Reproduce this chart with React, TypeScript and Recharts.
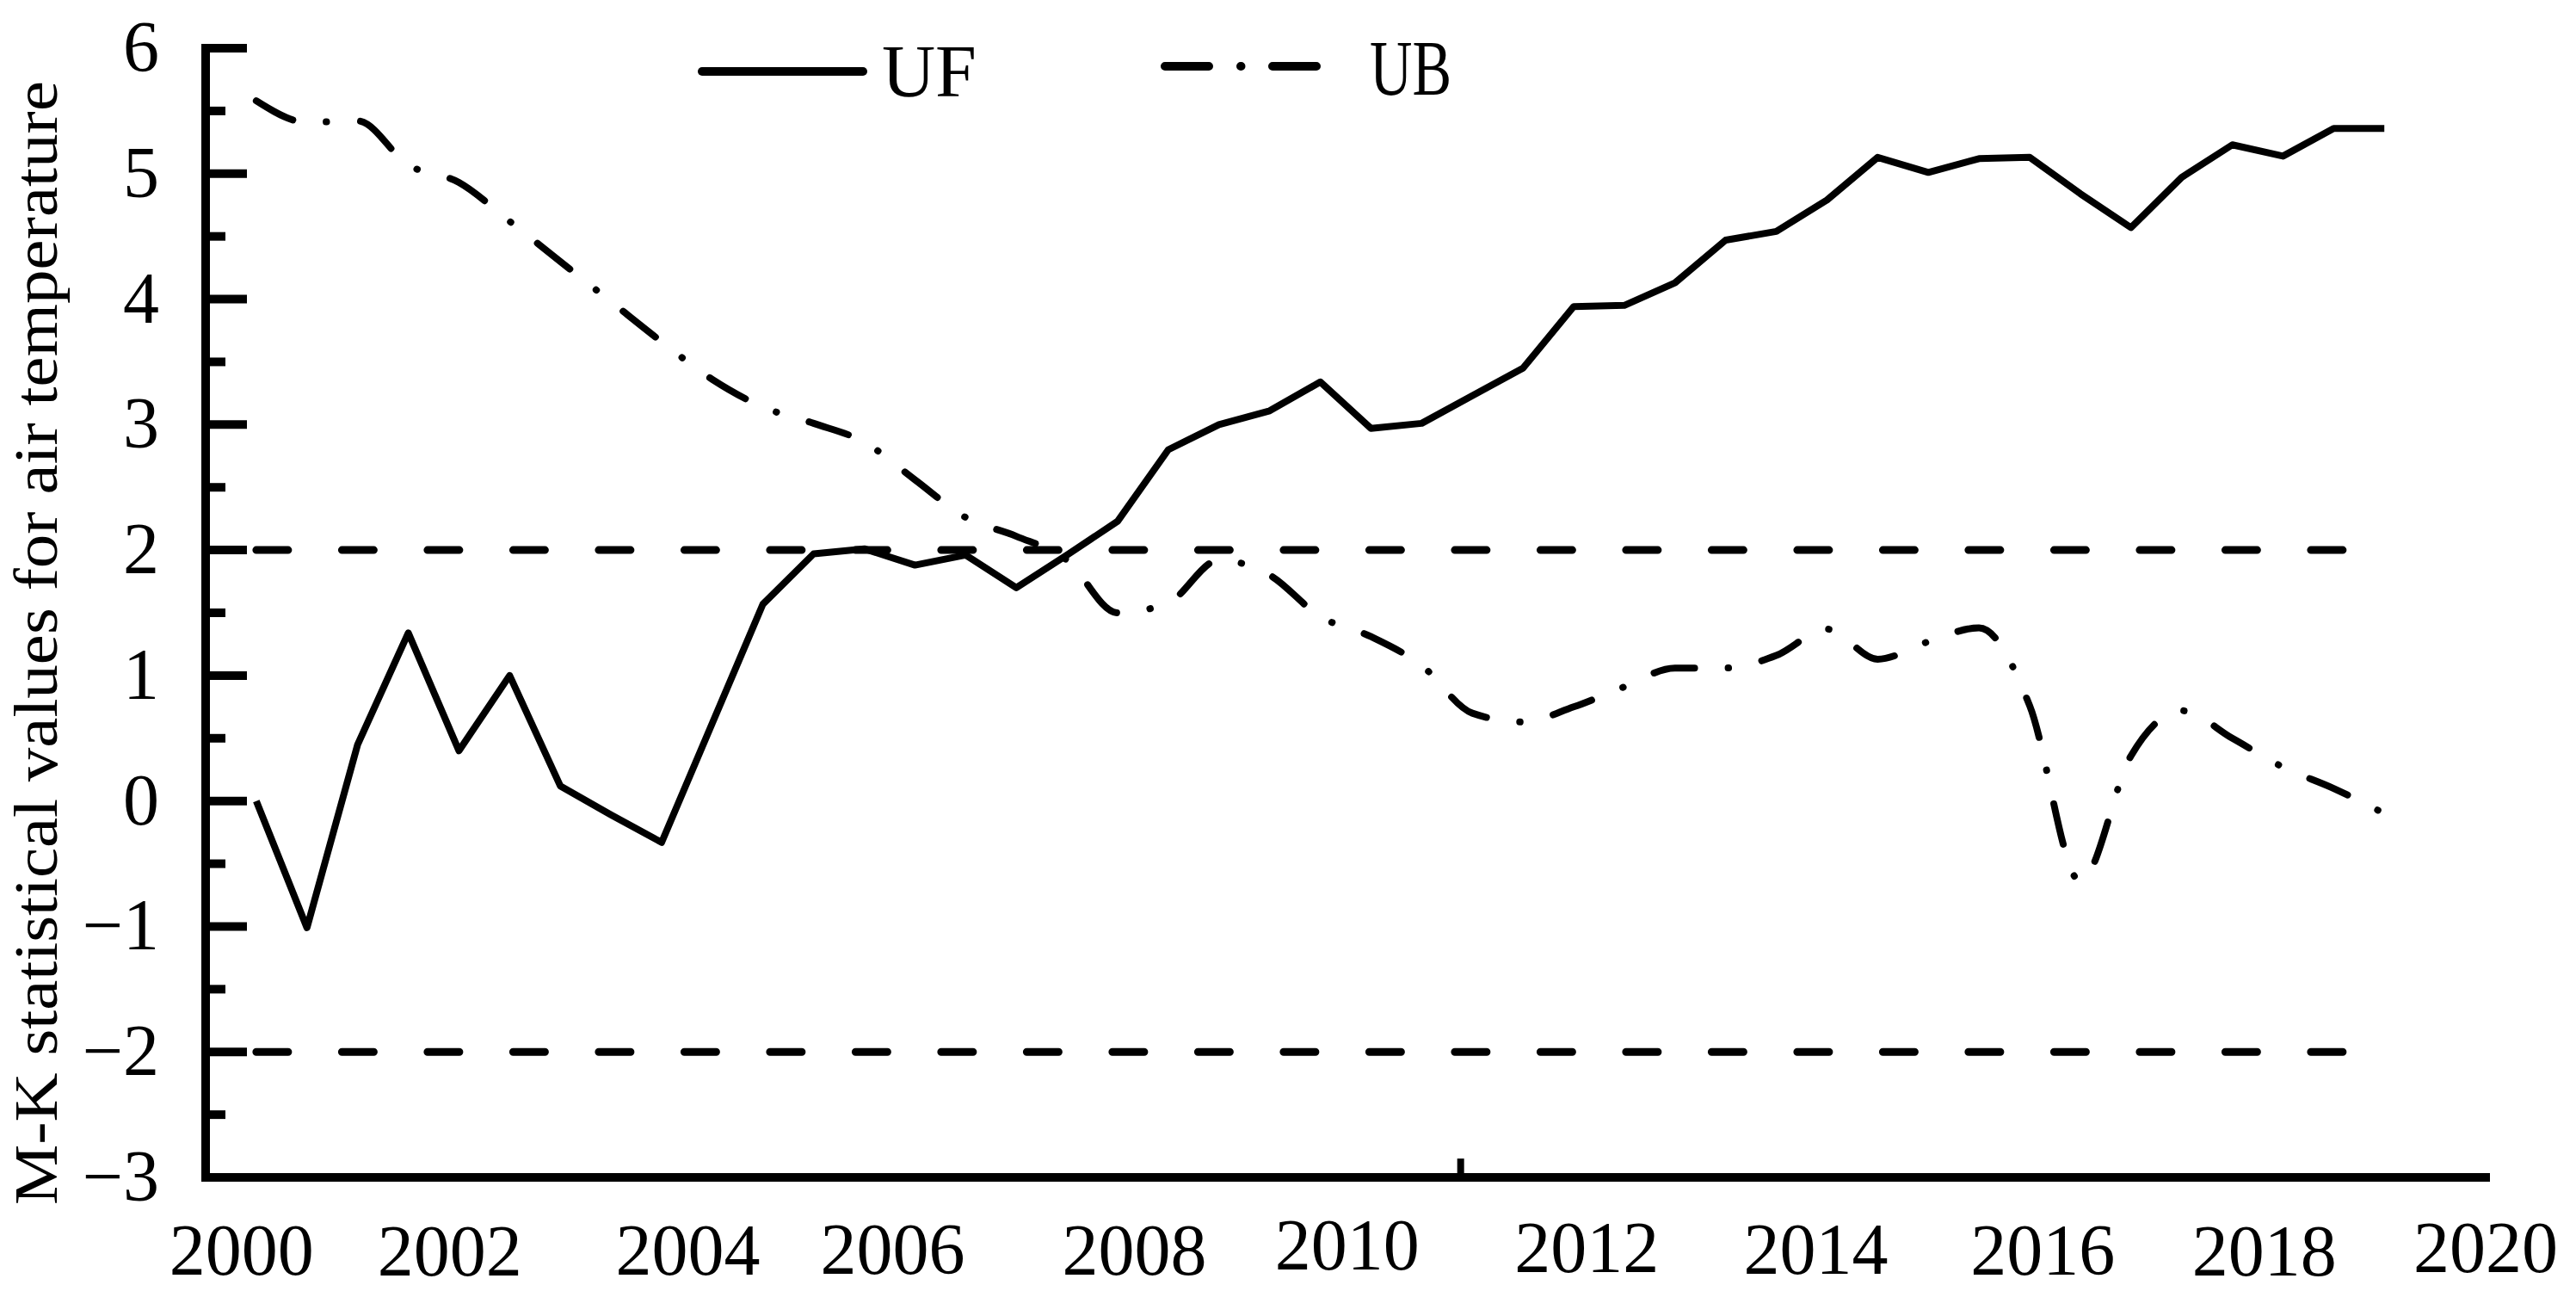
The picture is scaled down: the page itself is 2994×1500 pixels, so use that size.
import React from "react";
import { LineChart, Line, XAxis, YAxis, ReferenceLine, Legend } from "recharts";

// Mann-Kendall sequential test, one value per step along the axis
const UF = [
  0.0, -1.01, 0.45, 1.34, 0.4, 1.0, 0.12, -0.11, -0.33, 0.62, 1.57,
  1.97, 2.01, 1.88, 1.96, 1.7, 1.96, 2.23, 2.8, 3.0, 3.11,
  3.34, 2.97, 3.01, 3.23, 3.45, 3.94, 3.95, 4.13, 4.47, 4.54,
  4.79, 5.13, 5.01, 5.12, 5.13, 4.84, 4.57, 4.97, 5.23, 5.14,
  5.36, 5.36,
];
const UB = [
  5.58, 5.41, 5.42, 5.07, 4.93, 4.62, 4.3, 3.98, 3.66, 3.36, 3.14,
  3.01, 2.86, 2.56, 2.26, 2.11, 1.92, 1.5, 1.58, 1.92, 1.8,
  1.47, 1.31, 1.08, 0.7, 0.63, 0.75, 0.91, 1.06, 1.06, 1.16,
  1.37, 1.13, 1.27, 1.38, 0.76, -0.64, 0.36, 0.72, 0.5, 0.27,
  0.1, -0.1,
];

const Y_TICKS = [-3, -2.5, -2, -1.5, -1, -0.5, 0, 0.5, 1, 1.5, 2, 2.5, 3, 3.5, 4, 4.5, 5, 5.5, 6];
const YEAR_LABELS = ["2000", "2002", "2004", "2006", "2008", "2010", "2012", "2014", "2016", "2018", "2020"];
// where each year label sits along the step axis, and its small vertical offset
const YEAR_AT = [-0.29, 3.82, 8.52, 12.56, 17.33, 21.53, 26.26, 30.78, 35.26, 39.63, 44];
const YEAR_DY = [113, 113.5, 113, 112, 113, 106.5, 109.5, 112, 112.5, 113.5, 109.5];
const LIMITS = [2, -2];
const STRAY_MARK_AT = 23.77;

const FONT = "'Liberation Serif', 'Times New Roman', serif";

const data = UF.map((uf, i) => ({ step: i, UF: uf, UB: UB[i] }));

function YearTick(props: any) {
  const { x, y, payload } = props;
  const k = YEAR_AT.indexOf(payload.value);
  if (k < 0) return null;
  return (
    <text x={x} y={y + YEAR_DY[k]} textAnchor="middle" fontFamily={FONT} fontSize={84} fill="#000">
      {YEAR_LABELS[k]}
    </text>
  );
}

function ValueTick(props: any) {
  const { x, y, payload } = props;
  const v = payload.value;
  const major = Number.isInteger(v);
  return (
    <g>
      <line x1={x} x2={x + (major ? 48 : 23)} y1={y} y2={y} stroke="#000" strokeWidth={10} />
      {major && (
        <text x={x - 54} y={y + 27} textAnchor="end" fontFamily={FONT} fontSize={84} fill="#000">
          {v < 0 ? `\u2212${-v}` : v}
        </text>
      )}
    </g>
  );
}

function AxisTitle() {
  return (
    <text
      transform="translate(66,747) rotate(-90)"
      textAnchor="middle"
      fontFamily={FONT}
      fontSize={72}
      fill="#000"
      textLength={1306}
      lengthAdjust="spacingAndGlyphs"
    >
      M-K statistical values for air temperature
    </text>
  );
}

function LegendKey() {
  return (
    <svg width={1800} height={140} style={{ display: "block" }}>
      <line x1={816} x2={1003} y1={83} y2={83} stroke="#000" strokeWidth={10} strokeLinecap="round" />
      <text x={1025} y={112} fontFamily={FONT} fontSize={86} fill="#000">UF</text>
      <line
        x1={1354}
        x2={1530}
        y1={77}
        y2={77}
        stroke="#000"
        strokeWidth={10}
        strokeLinecap="round"
        strokeDasharray="51 37 0.5 36.5 51"
      />
      <text x={1592} y={110} fontFamily={FONT} fontSize={92} fill="#000" textLength={95} lengthAdjust="spacingAndGlyphs">
        UB
      </text>
    </svg>
  );
}

export default function App() {
  return (
    <div style={{ position: "absolute", left: 0, top: 0, width: 2994, height: 1500, background: "#fff" }}>
      <LineChart width={2994} height={1500} data={data} margin={{ top: 56, right: 105, bottom: 12, left: 89 }}>
        <XAxis
          dataKey="step"
          type="number"
          domain={[-1, 44]}
          ticks={YEAR_AT}
          interval={0}
          height={120}
          tickSize={0}
          tickMargin={0}
          tickLine={false}
          tick={<YearTick />}
          axisLine={{ stroke: "#000", strokeWidth: 10, strokeLinecap: "square" }}
        />
        <YAxis
          type="number"
          domain={[-3, 6]}
          ticks={Y_TICKS}
          interval={0}
          width={150}
          tickSize={0}
          tickMargin={0}
          tickLine={false}
          tick={<ValueTick />}
          axisLine={{ stroke: "#000", strokeWidth: 10, strokeLinecap: "square" }}
          label={<AxisTitle />}
        />
        <Legend
          verticalAlign="middle"
          align="center"
          layout="horizontal"
          content={LegendKey}
          wrapperStyle={{ top: 0, left: 0, width: 1800, height: 140 }}
        />
        {LIMITS.map((v) => (
          <ReferenceLine
            key={v}
            segment={[{ x: 0, y: v }, { x: 42, y: v }]}
            stroke="#000"
            strokeWidth={9}
            strokeDasharray="37 62.5"
            strokeLinecap="round"
          />
        ))}
        <ReferenceLine
          segment={[{ x: STRAY_MARK_AT, y: -3 }, { x: STRAY_MARK_AT, y: -2.85 }]}
          stroke="#000"
          strokeWidth={8}
        />
        <Line
          dataKey="UB"
          name="UB"
          type="monotone"
          stroke="#000"
          strokeWidth={8}
          strokeLinecap="round"
          strokeDasharray="48 39 0.5 39.5"
          dot={false}
          activeDot={false}
          isAnimationActive={false}
        />
        <Line
          dataKey="UF"
          name="UF"
          type="linear"
          stroke="#000"
          strokeWidth={8}
          strokeLinejoin="round"
          dot={false}
          activeDot={false}
          isAnimationActive={false}
        />
      </LineChart>
    </div>
  );
}
